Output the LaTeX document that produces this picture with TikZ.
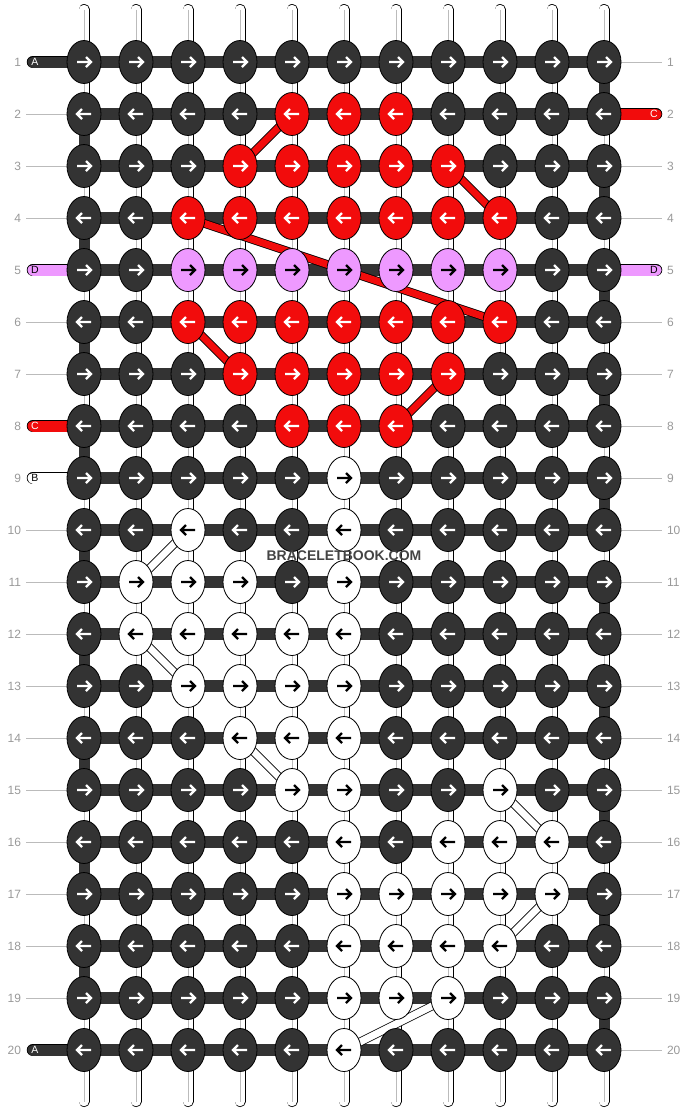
\documentclass[tikz,border=0pt]{standalone}
\usepackage{fontspec}
\setmainfont{Liberation Sans}
\usetikzlibrary{shapes.geometric}
\definecolor{kd}{HTML}{333333}
\definecolor{kr}{HTML}{F20C0C}
\definecolor{kp}{HTML}{EE99FF}
\definecolor{kw}{HTML}{FFFFFF}
\colorlet{akd}{white}
\colorlet{akr}{white}
\colorlet{akp}{black}
\colorlet{akw}{black}
\definecolor{numgray}{HTML}{999999}
\definecolor{guidegray}{HTML}{BBBBBB}
\definecolor{logogray}{HTML}{444444}
\begin{document}
\begin{tikzpicture}[x=1pt,y=-1pt,inner sep=0pt,outer sep=0pt,
warp/.style={double=white,double distance=9.5pt,line width=0.75pt,line cap=round},
core/.style={draw=guidegray,line width=0.7pt},
weft/.style={draw=kd,line width=12pt},
turn/.style={draw=kd,line width=11pt},
tail/.style={double=#1,double distance=11pt,line width=0.75pt,line cap=round},
guide/.style={draw=guidegray,line width=1pt},
band/.style={double=#1,double distance=7pt,line width=0.8pt},
knot/.style={draw,ellipse,line width=0.8pt,minimum width=34pt,minimum height=43pt,fill=#1},
arr/.style={line width=2.2pt,draw=#1},
rownum/.style={text=numgray,font=\fontsize{12}{13}\selectfont},
tag/.style={text=#1,font=\fontsize{10.5}{11}\selectfont}]
\useasboundingbox (0,0) rectangle (688,1112);
% grid points
\foreach \r in {1,...,20}
  \foreach \cn in {1,...,11}
    \coordinate (p-\r-\cn) at ({32+52*\cn},{10+52*\r});
% vertical strings
\foreach \cn in {1,...,11} {
  \coordinate (t-\cn) at ({32+52*\cn},9.5);
  \coordinate (b-\cn) at ({32+52*\cn},1101.5);
  \draw[warp] (t-\cn) -- (b-\cn);
  \draw[core] (t-\cn) -- (b-\cn);
}
% rows and turns at the edges
\foreach \r in {1,...,20}
  \draw[weft] (p-\r-1) -- (p-\r-11);
\foreach \r [evaluate=\r as \s using int(\r+1)] in {2,4,...,18}
  \draw[turn] (p-\r-1) -- (p-\s-1);
\foreach \r [evaluate=\r as \s using int(\r+1)] in {1,3,...,19}
  \draw[turn] (p-\r-11) -- (p-\s-11);
% string ends
\foreach \r/\col/\lab/\txt in {1/kd/A/white,5/kp/D/black,8/kr/C/white,9/kw/B/black,20/kd/A/white} {
  \coordinate (l-\r) at (33,{10+52*\r});
  \draw[tail=\col] (l-\r) -- (p-\r-1);
  \node[tag=\txt] (tl-\r) at ([xshift=2pt]l-\r) {\lab};
}
\foreach \r/\col/\lab/\txt in {2/kr/C/white,5/kp/D/black} {
  \coordinate (r-\r) at (656,{10+52*\r});
  \draw[tail=\col] (p-\r-11) -- (r-\r);
  \node[tag=\txt] (tr-\r) at ([xshift=-2pt]r-\r) {\lab};
}
\foreach \r in {2,3,4,6,7,10,11,12,13,14,15,16,17,18,19} {
  \coordinate (gl-\r) at (26,{10+52*\r});
  \draw[guide] (gl-\r) -- (p-\r-1);
}
\foreach \r in {1,3,4,6,7,8,9,10,11,12,13,14,15,16,17,18,19,20} {
  \coordinate (gr-\r) at (662,{10+52*\r});
  \draw[guide] (p-\r-11) -- (gr-\r);
}
% travelling strands
\draw[band=kr] (p-2-5) -- (p-3-4);
\draw[band=kr] (p-3-8) -- (p-4-9);
\draw[band=kr] (p-4-3) -- (p-6-9);
\draw[band=kr] (p-6-3) -- (p-7-4);
\draw[band=kr] (p-7-8) -- (p-8-7);
\draw[band=white] (p-10-3) -- (p-11-2);
\draw[band=white] (p-12-2) -- (p-13-3);
\draw[band=white] (p-14-4) -- (p-15-5);
\draw[band=white] (p-15-9) -- (p-16-10);
\draw[band=white] (p-17-10) -- (p-18-9);
\draw[band=white] (p-19-8) -- (p-20-6);
% knots
\foreach \row [count=\r] in {
  {d,d,d,d,d,d,d,d,d,d,d},
  {d,d,d,d,r,r,r,d,d,d,d},
  {d,d,d,r,r,r,r,r,d,d,d},
  {d,d,r,r,r,r,r,r,r,d,d},
  {d,d,p,p,p,p,p,p,p,d,d},
  {d,d,r,r,r,r,r,r,r,d,d},
  {d,d,d,r,r,r,r,r,d,d,d},
  {d,d,d,d,r,r,r,d,d,d,d},
  {d,d,d,d,d,w,d,d,d,d,d},
  {d,d,w,d,d,w,d,d,d,d,d},
  {d,w,w,w,d,w,d,d,d,d,d},
  {d,w,w,w,w,w,d,d,d,d,d},
  {d,d,w,w,w,w,d,d,d,d,d},
  {d,d,d,w,w,w,d,d,d,d,d},
  {d,d,d,d,w,w,d,d,w,d,d},
  {d,d,d,d,d,w,d,w,w,w,d},
  {d,d,d,d,d,w,w,w,w,w,d},
  {d,d,d,d,d,w,w,w,w,d,d},
  {d,d,d,d,d,w,w,w,d,d,d},
  {d,d,d,d,d,w,d,d,d,d,d}} {
  \ifodd\r \def\dir{1}\else\def\dir{-1}\fi
  \foreach \kc [count=\cn] in \row {
    \node[knot=k\kc] (k-\r-\cn) at (p-\r-\cn) {};
    \draw[arr=ak\kc] (k-\r-\cn.center) ++({-7*(\dir)},0) -- ++({14*(\dir)},0)
      ++({-5*(\dir)},-5) -- ++({5*(\dir)},5) -- ++({-5*(\dir)},5);
  }
}
% row numbers
\foreach \r in {1,...,20} {
  \node[rownum,anchor=east] (nl-\r) at (21,{10+52*\r}) {\r};
  \node[rownum,anchor=west] (nr-\r) at (667,{10+52*\r}) {\r};
}
\node[text=logogray,font=\fontsize{14}{16}\selectfont\bfseries] (logo) at (344,556) {BRACELETBOOK.COM};
\end{tikzpicture}
\end{document}
